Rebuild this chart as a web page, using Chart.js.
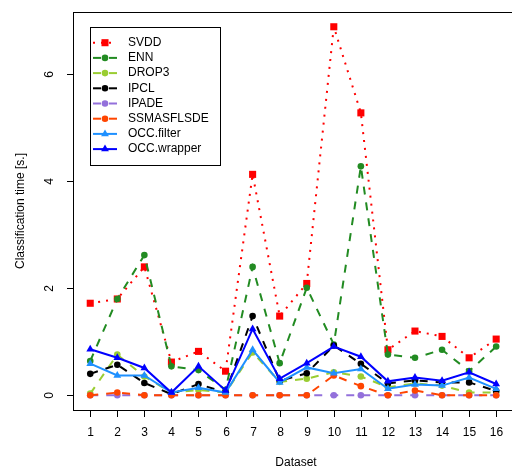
<!DOCTYPE html>
<html>
<head>
<meta charset="utf-8">
<script src="https://cdn.jsdelivr.net/npm/chart.js@4"></script>
<style>
  body { margin: 0; background: #fff; }
  #box { width: 512px; height: 470px; }
</style>
</head>
<body>
<div id="box"><canvas id="chart"></canvas></div>
<script>
// dados
const datasetIds = [1, 2, 3, 4, 5, 6, 7, 8, 9, 10, 11, 12, 13, 14, 15, 16];
const yTicks = [0, 2, 4, 6];

const svdd       = [1.72, 1.80, 2.40, 0.62, 0.82, 0.45, 4.13, 1.48, 2.09, 6.89, 5.28, 0.85, 1.20, 1.10, 0.70, 1.05];
const enn        = [0.64, 1.80, 2.62, 0.54, 0.47, 0.10, 2.40, 0.60, 2.01, 0.95, 4.28, 0.76, 0.70, 0.85, 0.45, 0.91];
const drop3      = [0.03, 0.76, 0.35, 0.05, 0.10, 0.05, 0.80, 0.25, 0.31, 0.43, 0.35, 0.15, 0.22, 0.18, 0.05, 0.05];
const ipcl       = [0.40, 0.57, 0.23, 0.02, 0.21, 0.05, 1.48, 0.27, 0.41, 0.93, 0.59, 0.22, 0.28, 0.24, 0.24, 0.08];
const ipade      = [0.00, 0.00, 0.00, 0.00, 0.00, 0.00, 0.00, 0.00, 0.00, 0.00, 0.00, 0.00, 0.00, 0.00, 0.00, 0.00];
const ssmasflsde = [0.00, 0.05, 0.00, 0.00, 0.00, 0.00, 0.00, 0.00, 0.00, 0.37, 0.17, 0.00, 0.09, 0.00, 0.00, 0.00];
const occFilter  = [0.59, 0.37, 0.37, 0.05, 0.14, 0.05, 0.85, 0.24, 0.52, 0.41, 0.49, 0.12, 0.20, 0.18, 0.33, 0.12];
const occWrapper = [0.86, 0.70, 0.51, 0.05, 0.54, 0.09, 1.24, 0.31, 0.60, 0.91, 0.72, 0.26, 0.33, 0.27, 0.43, 0.21];

const FONT = '12px "Liberation Sans", Arial, sans-serif';

function serie(label, values, color, dash, style, radius) {
    return {
        label: label,
        data: datasetIds.map((d, i) => ({ x: d, y: values[i] })),
        borderColor: color,
        backgroundColor: color,
        borderWidth: 2,
        borderDash: dash,
        pointStyle: style,
        pointRadius: radius,
        pointBorderWidth: 0,
        pointBackgroundColor: color,
        tension: 0
    };
}

const series = [
    serie('SVDD', svdd, '#ff0000', [2, 6], 'rect', 5),
    serie('ENN', enn, '#228b22', [8, 8], 'circle', 3.3),
    serie('DROP3', drop3, '#9acd32', [8, 8], 'circle', 3.3),
    serie('IPCL', ipcl, '#000000', [8, 8], 'circle', 3.3),
    serie('IPADE', ipade, '#9370db', [8, 8], 'circle', 3.3),
    serie('SSMASFLSDE', ssmasflsde, '#ff4500', [8, 8], 'circle', 3.3),
    serie('OCC.filter', occFilter, '#1e90ff', [], 'triangle', 4.5),
    serie('OCC.wrapper', occWrapper, '#0000ff', [], 'triangle', 4.5)
];
// o último desenhado fica por cima
series.forEach((s, i) => { s.order = series.length - 1 - i; });

// Eixos, títulos e legenda no estilo do R
const molduraPlugin = {
    id: 'moldura',
    afterDraw(chart) {
        const ctx = chart.ctx;
        const a = chart.chartArea;
        const x = chart.scales.x, y = chart.scales.y;
        ctx.save();
        ctx.strokeStyle = '#000';
        ctx.lineWidth = 1;
        ctx.setLineDash([]);
        ctx.strokeRect(a.left - 0.5, a.top + 0.5, a.right - a.left + 20, a.bottom - a.top);

        ctx.fillStyle = '#000';
        ctx.font = FONT;
        ctx.textAlign = 'center';
        ctx.textBaseline = 'middle';

        // eixo x
        datasetIds.forEach(d => {
            const px = Math.round(x.getPixelForValue(d)) + 0.5;
            ctx.beginPath();
            ctx.moveTo(px, a.bottom);
            ctx.lineTo(px, a.bottom + 7);
            ctx.stroke();
            ctx.fillText(String(d), px, 433);
        });
        // eixo y
        yTicks.forEach(v => {
            const py = Math.round(y.getPixelForValue(v)) + 0.5;
            ctx.beginPath();
            ctx.moveTo(a.left - 7, py);
            ctx.lineTo(a.left, py);
            ctx.stroke();
            ctx.save();
            ctx.translate(50, py);
            ctx.rotate(-Math.PI / 2);
            ctx.fillText(String(v), 0, 0);
            ctx.restore();
        });

        ctx.fillText('Dataset', 296, 463);
        ctx.save();
        ctx.translate(21, 211);
        ctx.rotate(-Math.PI / 2);
        ctx.fillText('Classification time [s.]', 0, 0);
        ctx.restore();

        // legenda
        ctx.fillStyle = '#fff';
        ctx.fillRect(90, 27, 130, 138);
        ctx.strokeRect(90.5, 27.5, 130, 138);
        series.forEach((s, i) => {
            const ly = 42.7 + i * 15.2;
            ctx.strokeStyle = s.borderColor;
            ctx.fillStyle = s.borderColor;
            ctx.lineWidth = 2;
            ctx.setLineDash(s.borderDash);
            ctx.beginPath();
            ctx.moveTo(93, ly);
            ctx.lineTo(117, ly);
            ctx.stroke();
            ctx.setLineDash([]);
            Chart.helpers.drawPoint(ctx, { pointStyle: s.pointStyle, radius: s.pointRadius, rotation: 0, borderWidth: 0 }, 105, ly);
            ctx.fillStyle = '#000';
            ctx.textAlign = 'left';
            ctx.fillText(s.label, 128, ly);
        });
        ctx.restore();
    }
};

new Chart(document.getElementById('chart'), {
    type: 'line',
    data: { datasets: series },
    options: {
        responsive: true,
        maintainAspectRatio: false,
        animation: false,
        layout: { padding: { left: 74, top: 12, right: 0, bottom: 60 } },
        scales: {
            x: { type: 'linear', min: 0.4, max: 16.4, display: false },
            y: { type: 'linear', min: -0.276, max: 7.166, display: false }
        },
        plugins: {
            legend: { display: false },
            tooltip: { enabled: false }
        }
    },
    plugins: [molduraPlugin]
});
</script>
</body>
</html>
